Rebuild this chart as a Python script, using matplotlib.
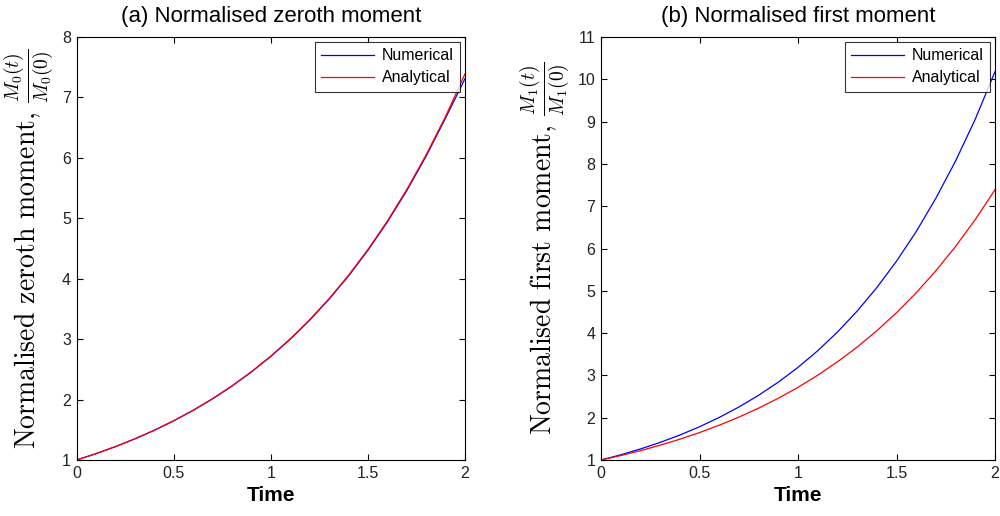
import numpy as np
import matplotlib
matplotlib.use("Agg")
import matplotlib.pyplot as plt

plt.rcParams['mathtext.fontset'] = 'cm'
plt.rcParams['font.family'] = ['Liberation Sans', 'DejaVu Sans']

# values, step 0.1 in time
time = [0.0, 0.1, 0.2, 0.3, 0.4, 0.5, 0.6, 0.7, 0.8, 0.9, 1.0,
        1.1, 1.2, 1.3, 1.4, 1.5, 1.6, 1.7, 1.8, 1.9, 2.0]

m0_numerical = [1.0, 1.105, 1.221, 1.349, 1.491, 1.648, 1.821, 2.012, 2.223, 2.456, 2.713,
                2.998, 3.312, 3.660, 4.044, 4.469, 4.938, 5.456, 6.028, 6.660, 7.31]
m0_analytical = [1.0, 1.105, 1.221, 1.350, 1.492, 1.649, 1.822, 2.014, 2.226, 2.460, 2.718,
                 3.004, 3.320, 3.669, 4.055, 4.482, 4.953, 5.474, 6.050, 6.686, 7.389]

m1_numerical = [1.0, 1.123, 1.261, 1.416, 1.590, 1.786, 2.006, 2.253, 2.530, 2.841, 3.190,
                3.583, 4.024, 4.519, 5.075, 5.70, 6.40, 7.19, 8.07, 9.06, 10.18]
m1_analytical = m0_analytical

panels = [
    ("(a) Normalised zeroth moment", m0_numerical, m0_analytical, 8,
     r"Normalised zeroth moment, $\frac{M_0(t)}{M_0(0)}$", [0.0765, 0.1085, 0.3885, 0.8198]),
    ("(b) Normalised first moment", m1_numerical, m1_analytical, 11,
     r"Normalised first moment, $\frac{M_1(t)}{M_1(0)}$", [0.601, 0.1085, 0.394, 0.8198]),
]

fig = plt.figure(figsize=(10, 5.16), dpi=100)

for title, num, ana, ymax, ylab, rect in panels:
    ax = fig.add_axes(rect)
    ax.plot(time, num, color='blue', lw=0.9, label='Numerical')
    ax.plot(time, ana, color='red', lw=0.9, label='Analytical')
    ax.set_xlim(0, 2)
    ax.set_ylim(1, ymax)
    ax.set_xticks([0, 0.5, 1, 1.5, 2])
    ax.set_xticklabels(['0', '0.5', '1', '1.5', '2'])
    ax.set_yticks(range(1, ymax + 1))
    ax.tick_params(direction='in', top=True, right=True, labelsize=11.5, length=4, pad=4,
                   labelcolor='#222222')
    ax.set_title(title, fontsize=16, pad=11)
    ax.set_xlabel("Time", fontsize=15, fontweight='bold', labelpad=4)
    ax.set_ylabel(ylab, fontsize=20, fontfamily='cmr10', labelpad=4)
    for s in ax.spines.values():
        s.set_linewidth(0.8)
    leg = ax.legend(loc='upper right', fancybox=False, edgecolor='black', fontsize=11.5,
                    borderaxespad=0.3, handlelength=3.3, handletextpad=0.5,
                    borderpad=0.4, labelspacing=0.45)
    leg.get_frame().set_linewidth(0.8)

fig.savefig("out.png", dpi=100)
